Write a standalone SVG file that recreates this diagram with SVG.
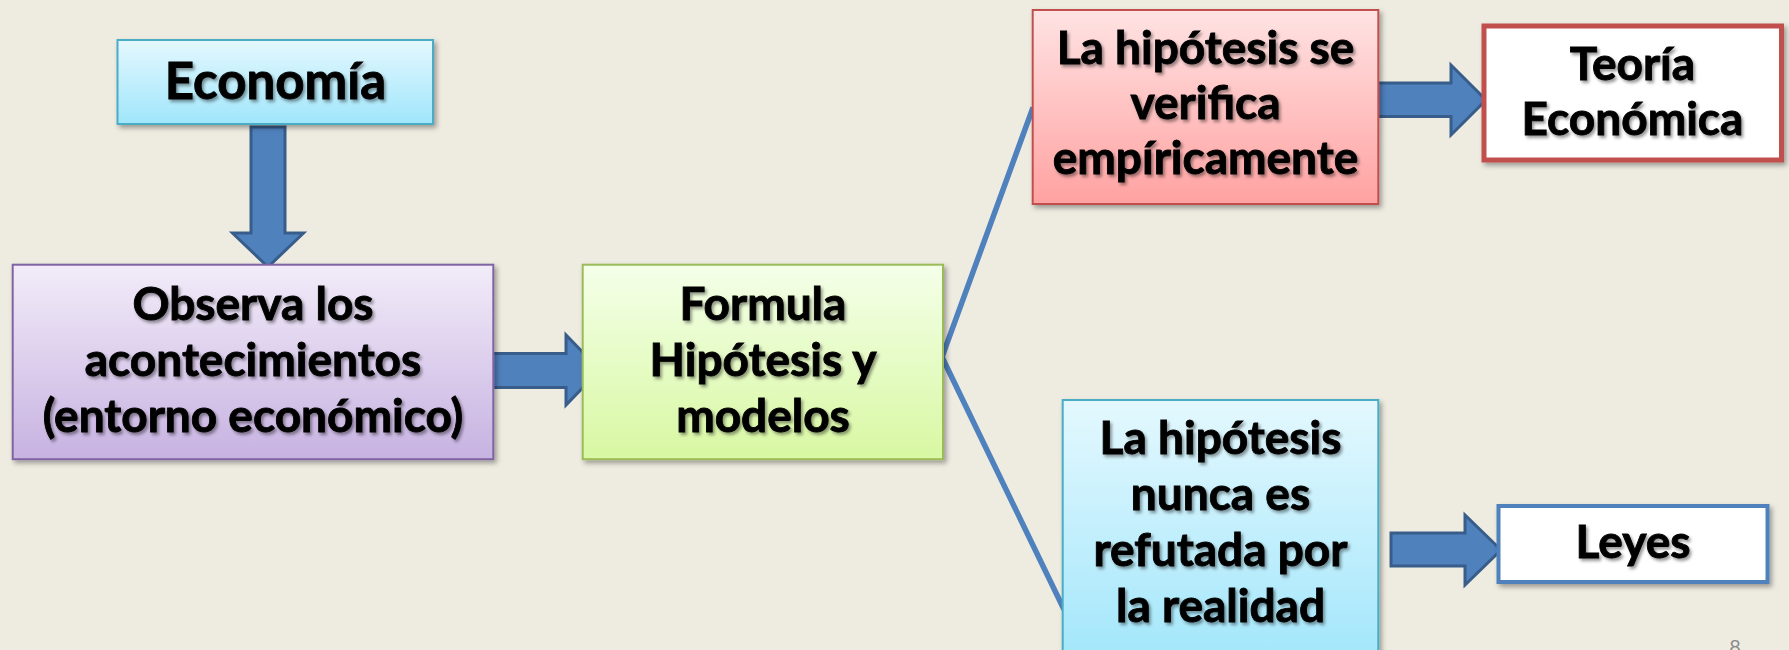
<svg xmlns="http://www.w3.org/2000/svg" width="1789" height="650" viewBox="0 0 1789 650">
<defs>
<linearGradient id="gCyan" x1="0" y1="0" x2="0" y2="1"><stop offset="0" stop-color="#E4F8FE"/><stop offset="1" stop-color="#A0E6FB"/></linearGradient>
<linearGradient id="gPurple" x1="0" y1="0" x2="0" y2="1"><stop offset="0" stop-color="#F2ECF9"/><stop offset="1" stop-color="#C7B2E1"/></linearGradient>
<linearGradient id="gGreen" x1="0" y1="0" x2="0" y2="1"><stop offset="0" stop-color="#F4FFE9"/><stop offset="1" stop-color="#D8F8A2"/></linearGradient>
<linearGradient id="gRed" x1="0" y1="0" x2="0" y2="1"><stop offset="0" stop-color="#FFE3E3"/><stop offset="1" stop-color="#FFA2A1"/></linearGradient>
<filter id="boxShadow" x="-10%" y="-10%" width="120%" height="130%"><feDropShadow dx="2.5" dy="3" stdDeviation="2.5" flood-color="#000" flood-opacity="0.35"/></filter>
<filter id="txtShadow" x="-5%" y="-20%" width="110%" height="150%"><feDropShadow dx="2" dy="2.5" stdDeviation="1.5" flood-color="#000" flood-opacity="0.4"/></filter>
</defs>
<style>
.bg{fill:#EEECE1}
.t{font-family:"Lato","Open Sans","Liberation Sans",sans-serif;font-weight:bold;font-size:46px;fill:#000;stroke:#000;stroke-width:0.9;text-anchor:middle;filter:url(#txtShadow)}
.big{font-size:51px}
.box{filter:url(#boxShadow);stroke-width:2}
.arrow{fill:#4F81BD;stroke:#385D8A;stroke-width:3;stroke-linejoin:miter}
.branch{fill:none;stroke:#4F81BD;stroke-width:5.5;stroke-linejoin:miter}
.pg{font-family:"Lato","Liberation Sans",sans-serif;font-size:20px;fill:#8B8B8B;text-anchor:middle}
</style>
<rect class="bg" x="0" y="0" width="1789" height="650"/>

<g id="connectors">
<polygon class="arrow" points="251,127 285,127 285,233 303.5,233 268,267 232.5,233 251,233"/>
<polygon class="arrow" points="491,353.5 566,353.5 566,335 600,370 566,405 566,387.5 491,387.5"/>
<path class="branch" d="M1033,107.5 L942,357 L1064,609.5"/>
<polygon class="arrow" points="1376,83 1451,83 1451,65 1486,100 1451,135 1451,116.5 1376,116.5"/>
<polygon class="arrow" points="1391,533 1465,533 1465,515 1501,550 1465,585 1465,566 1391,566"/>
</g>

<g id="economia">
<rect class="box" x="117.5" y="40" width="315.5" height="84" fill="url(#gCyan)" stroke="#4BACC6"/>
<text class="t big" x="275.5" y="99">Economía</text>
</g>

<g id="observa">
<rect class="box" x="12.7" y="264.7" width="480.6" height="194.5" fill="url(#gPurple)" stroke="#8064A2"/>
<text class="t" x="253" y="320">Observa los</text>
<text class="t" x="253" y="376">acontecimientos</text>
<text class="t" x="253" y="432">(entorno económico)</text>
</g>

<g id="formula">
<rect class="box" x="582.7" y="264.7" width="360.3" height="194.5" fill="url(#gGreen)" stroke="#9BBB59"/>
<text class="t" x="763" y="320">Formula</text>
<text class="t" x="763" y="376">Hipótesis y</text>
<text class="t" x="763" y="432">modelos</text>
</g>

<g id="verifica">
<rect class="box" x="1032.7" y="10" width="345.6" height="194" fill="url(#gRed)" stroke="#C0504D"/>
<text class="t" x="1205.5" y="63.5">La hipótesis se</text>
<text class="t" x="1205.5" y="118.5">verifica</text>
<text class="t" x="1205.5" y="174">empíricamente</text>
</g>

<g id="refutada">
<rect class="box" x="1062.7" y="400" width="315.6" height="270" fill="url(#gCyan)" stroke="#4BACC6"/>
<text class="t" x="1220.5" y="454">La hipótesis</text>
<text class="t" x="1220.5" y="510">nunca es</text>
<text class="t" x="1220.5" y="566">refutada por</text>
<text class="t" x="1220.5" y="622">la realidad</text>
</g>

<g id="teoria">
<rect class="box" x="1484" y="26" width="297.5" height="134" fill="#FFFFFF" stroke="#C0504D" style="stroke-width:5"/>
<text class="t" x="1632.5" y="80">Teoría</text>
<text class="t" x="1632.5" y="135">Económica</text>
</g>

<g id="leyes">
<rect class="box" x="1498.5" y="506" width="269" height="76" fill="#FFFFFF" stroke="#4F81BD" style="stroke-width:4"/>
<text class="t" x="1633" y="558">Leyes</text>
</g>

<g id="page">
<text class="pg" x="1735" y="654">8</text>
</g>
</svg>
